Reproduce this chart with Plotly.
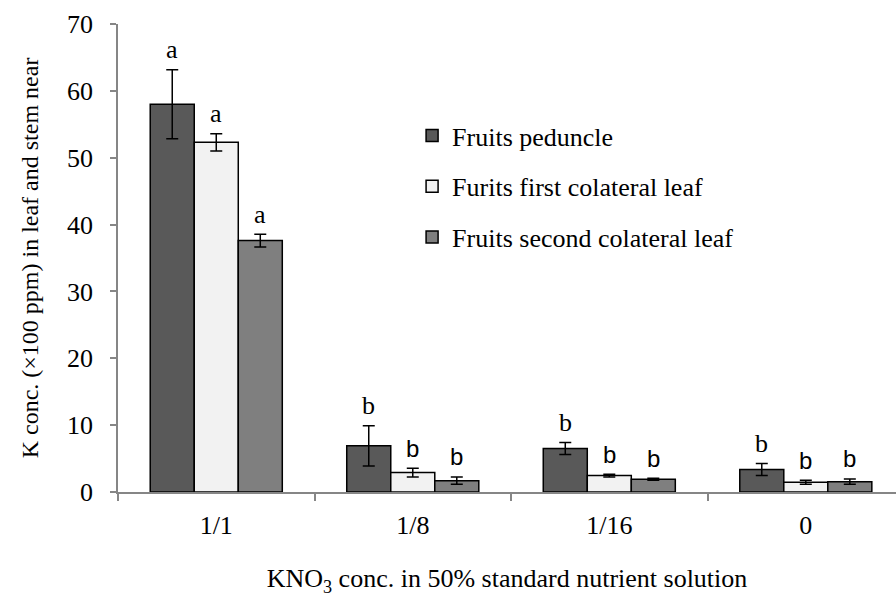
import plotly.graph_objects as go

categories = ["1/1", "1/8", "1/16", "0"]
series_names = ["Fruits peduncle", "Furits first colateral leaf", "Fruits second colateral leaf"]
peduncle = [58.0, 6.9, 6.5, 3.35]
peduncle_err = [5.15, 3.0, 0.9, 0.9]
first_leaf = [52.3, 2.9, 2.45, 1.45]
first_leaf_err = [1.3, 0.65, 0.2, 0.3]
second_leaf = [37.6, 1.7, 1.9, 1.55]
second_leaf_err = [0.95, 0.55, 0.15, 0.4]
letters_peduncle = ["a", "b", "b", "b"]
letters_first = ["a", "b", "b", "b"]
letters_second = ["a", "b", "b", "b"]
y_ticks = [0, 10, 20, 30, 40, 50, 60, 70]

colors = ["#595959", "#f2f2f2", "#7f7f7f"]
values = [peduncle, first_leaf, second_leaf]
errors = [peduncle_err, first_leaf_err, second_leaf_err]
letters = [letters_peduncle, letters_first, letters_second]

SERIF = "Liberation Serif, Times New Roman, serif"
SANS = "Liberation Sans, Arial, sans-serif"

fig = go.Figure()
for i in range(3):
    fig.add_trace(go.Bar(
        name=series_names[i], x=categories, y=values[i],
        marker=dict(color=colors[i], line=dict(color="black", width=1.5)),
        error_y=dict(type="data", array=errors[i], color="black", thickness=1.5, width=6),
        legendgroup=f"g{i}",
    ))

annotations = []
offsets = [-1, 0, 1]
for i in range(3):
    for j, cat in enumerate(categories):
        lt = letters[i][j]
        serif = (lt == "a") or (i == 0)
        annotations.append(dict(
            x=j + offsets[i] * 0.2245, xref="x",
            y=values[i][j] + errors[i][j], yref="y",
            text=lt, showarrow=False, yanchor="middle", yshift=20,
            font=dict(family=SERIF if serif else SANS, size=26 if serif else 24, color="black"),
        ))

fig.update_layout(
    width=896, height=598,
    margin=dict(l=118, r=0, t=24, b=106),
    paper_bgcolor="white", plot_bgcolor="white",
    barmode="group", bargap=0.328, bargroupgap=0,
    font=dict(family=SERIF, size=26, color="black"),
    showlegend=True,
    legend=dict(x=0.378, y=0.812, xanchor="left", yanchor="top",
                font=dict(family=SERIF, size=26, color="black"),
                tracegroupgap=14, bgcolor="rgba(0,0,0,0)"),
    annotations=annotations,
)
fig.update_xaxes(
    type="category", range=[-0.5, 3.459], automargin=False,
    showline=True, linecolor="#868686", linewidth=1.5,
    ticks="outside", tickson="boundaries", ticklen=7, tickcolor="#868686", tickwidth=1.5,
    ticklabelstandoff=9,
    tickfont=dict(family=SERIF, size=26, color="black"),
    showgrid=False, zeroline=False,
    title=dict(text="KNO<sub>3</sub> conc. in 50% standard nutrient solution",
               font=dict(family=SERIF, size=26, color="black"), standoff=30),
)
fig.update_yaxes(
    range=[0, 70], tickvals=y_ticks, automargin=False,
    showline=True, linecolor="#868686", linewidth=1.5,
    ticks="outside", ticklen=6, tickcolor="#868686", tickwidth=1.5,
    ticklabelstandoff=12,
    tickfont=dict(family=SERIF, size=26, color="black"),
    showgrid=False, zeroline=False,
    title=dict(text="K conc. (×100 ppm) in leaf and stem near",
               font=dict(family=SERIF, size=24, color="black"), standoff=22),
)
fig.write_html("out.html")
